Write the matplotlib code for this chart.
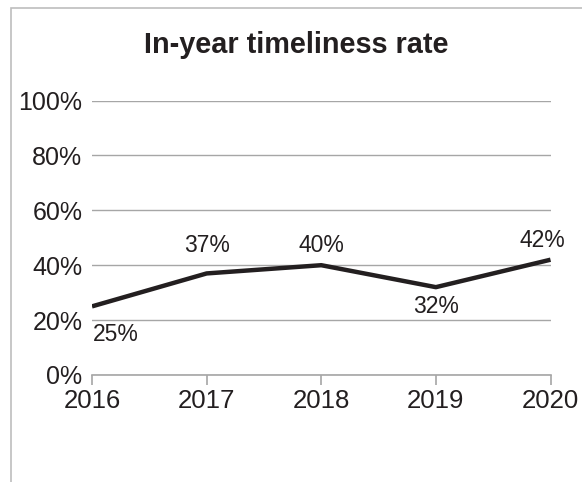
import matplotlib.pyplot as plt
from matplotlib.patches import Rectangle
from matplotlib.ticker import FuncFormatter

plt.rcParams['font.family'] = ['Liberation Sans', 'DejaVu Sans']

years = ['2016', '2017', '2018', '2019', '2020']
rates = [0.25, 0.37, 0.40, 0.32, 0.42]
label_texts = ['25%', '37%', '40%', '32%', '42%']
# offsets (points) for the data labels: below for 2016 and 2019
label_offsets = [(17, -20), (0, 20), (0, 14), (0, -14), (-6, 14)]

txt = '#231f20'
grid_col = '#a6a6a6'

fig = plt.figure(figsize=(5.82, 4.82), dpi=100)
fig.patches.append(Rectangle((11 / 582, -0.1), 1.2, 1 - 8 / 482 + 0.1,
                             transform=fig.transFigure, fill=False,
                             edgecolor='#bdbdbd', lw=1.2))

ax = fig.add_axes([92 / 582, 1 - 375 / 482, (550.5 - 92) / 582, (375 - 100.5) / 482])
x = list(range(len(years)))
ax.plot(x, rates, color='#231f20', lw=3.2, solid_capstyle='butt', zorder=3)

for xi, r, t, off in zip(x, rates, label_texts, label_offsets):
    ax.annotate(t, (xi, r), xytext=off, textcoords='offset points',
                ha='center', va='center', fontsize=16.5, color=txt)

ax.set_xlim(0, len(years) - 1)
ax.set_ylim(0, 1)
ax.set_xticks(x)
ax.set_xticklabels(years)
ax.set_yticks([0, 0.2, 0.4, 0.6, 0.8, 1.0])
ax.yaxis.set_major_formatter(FuncFormatter(lambda v, p: f'{v * 100:.0f}%'))
ax.grid(axis='y', color=grid_col, lw=1.0)
ax.set_axisbelow(True)
for s in ['top', 'right', 'left']:
    ax.spines[s].set_visible(False)
ax.spines['bottom'].set_color(grid_col)
ax.spines['bottom'].set_linewidth(1.2)
ax.tick_params(axis='y', length=0, pad=7, labelsize=18, labelcolor=txt)
ax.tick_params(axis='x', length=7, width=1.2, color=grid_col, pad=3,
               labelsize=18.5, labelcolor=txt)

fig.text(296.5 / 582, 1 - 45 / 482, 'In-year timeliness rate', ha='center',
         va='center', fontsize=20.8, fontweight='bold', color=txt)

fig.savefig('out.png', dpi=100)
